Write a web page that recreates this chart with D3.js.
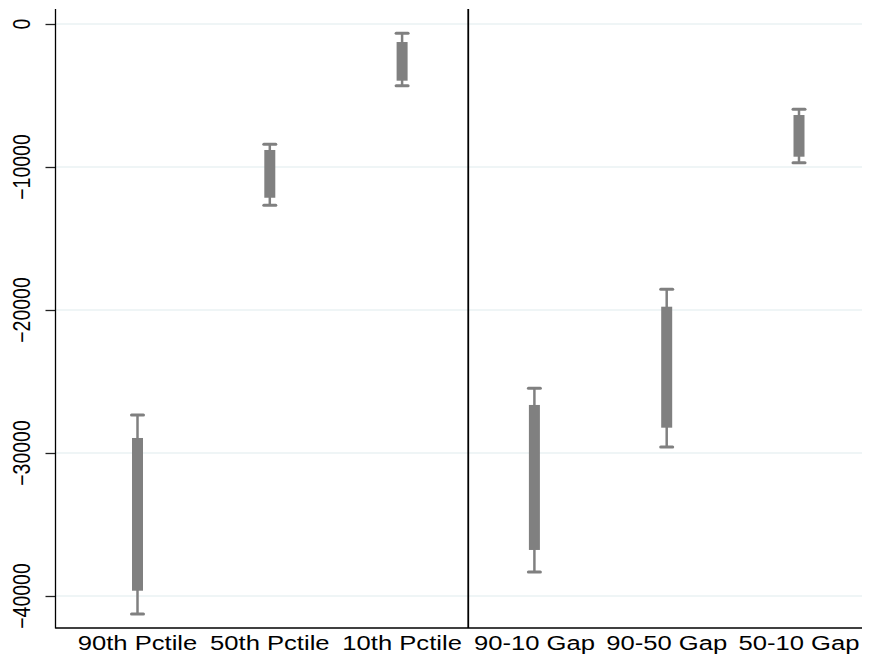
<!DOCTYPE html>
<html><head><meta charset="utf-8">
<script src="https://cdn.jsdelivr.net/npm/d3@7"></script>
<style>body{margin:0;background:#fff}svg{display:block}</style>
</head><body><div id="chart"></div>
<script>
const categories = ["90th Pctile","50th Pctile","10th Pctile","90-10 Gap","90-50 Gap","50-10 Gap"];
const whiskerHigh = [-27340,-8410,-650,-25480,-18550,-5965];
const boxHigh     = [-28950,-8810,-1260,-26640,-19770,-6365];
const boxLow      = [-39630,-12150,-3965,-36780,-28230,-9280];
const whiskerLow  = [-41260,-12680,-4315,-38320,-29580,-9700];
const yTicks = [0,-10000,-20000,-30000,-40000];

(function(){
const W = 875, H = 663;
const pLeft = 55.5, pRight = 862, pTop = 9, pBottom = 628;
const svg = d3.select("#chart").append("svg").attr("width",W).attr("height",H);

const y = d3.scaleLinear().domain([0,-40000]).range([24,596]);
const x = d3.scaleLinear().domain([1,6]).range([137.5,799]);

// gridlines
svg.append("g").selectAll("line").data(yTicks).join("line")
  .attr("x1",pLeft).attr("x2",pRight).attr("y1",d=>y(d)).attr("y2",d=>y(d))
  .attr("stroke","#eaf2f3").attr("stroke-width",1.5);

// y axis
const yAxis = d3.axisLeft(y).tickValues(yTicks).tickSize(10).tickFormat(d3.format("d"));
const gy = svg.append("g").attr("transform",`translate(${pLeft},0)`).call(yAxis);
gy.select(".domain").remove();
gy.selectAll(".tick line").attr("stroke","#222").attr("stroke-width",1.3);
gy.selectAll(".tick text").remove();
svg.append("line").attr("x1",pLeft).attr("x2",pLeft).attr("y1",pTop).attr("y2",pBottom+0.5)
  .attr("stroke","#000").attr("stroke-width",1.3);
svg.append("g").selectAll("text").data(yTicks).join("text")
  .attr("transform",d=>`translate(29.5,${y(d)}) scale(1.2,1) rotate(-90)`)
  .attr("text-anchor","middle")
  .attr("font-family","Liberation Sans, Arial, sans-serif").attr("font-size",19.5)
  .attr("fill","#000").text(d=>d3.format("d")(d));

// x axis
svg.append("line").attr("x1",pLeft).attr("x2",pRight).attr("y1",pBottom).attr("y2",pBottom)
  .attr("stroke","#000").attr("stroke-width",1.3);
svg.append("g").selectAll("text").data(categories).join("text")
  .attr("transform",(d,i)=>`translate(${x(i+1)},650) scale(1.22,1)`)
  .attr("text-anchor","middle")
  .attr("font-family","Liberation Sans, Arial, sans-serif").attr("font-size",21)
  .attr("fill","#000").text(d=>d);

// separator
svg.append("line").attr("x1",x(3.5)).attr("x2",x(3.5)).attr("y1",pTop).attr("y2",pBottom)
  .attr("stroke","#000").attr("stroke-width",1.8);

const col = "#808080";
const g = svg.append("g");
const idx = d3.range(categories.length);
g.selectAll(".wh").data(idx).join("line").attr("class","wh")
  .attr("x1",i=>x(i+1)).attr("x2",i=>x(i+1))
  .attr("y1",i=>y(whiskerHigh[i])).attr("y2",i=>y(whiskerLow[i]))
  .attr("stroke",col).attr("stroke-width",2.5);
["hi","lo"].forEach(k=>{
  const arr = k==="hi"?whiskerHigh:whiskerLow;
  g.selectAll(".cap"+k).data(idx).join("line").attr("class","cap"+k)
    .attr("x1",i=>x(i+1)-6).attr("x2",i=>x(i+1)+6)
    .attr("y1",i=>y(arr[i])).attr("y2",i=>y(arr[i]))
    .attr("stroke",col).attr("stroke-width",3).attr("stroke-linecap","round");
});
g.selectAll(".box").data(idx).join("rect").attr("class","box")
  .attr("x",i=>x(i+1)-5.5).attr("width",11)
  .attr("y",i=>y(boxHigh[i])).attr("height",i=>y(boxLow[i])-y(boxHigh[i]))
  .attr("fill",col);
})();
</script></body></html>
